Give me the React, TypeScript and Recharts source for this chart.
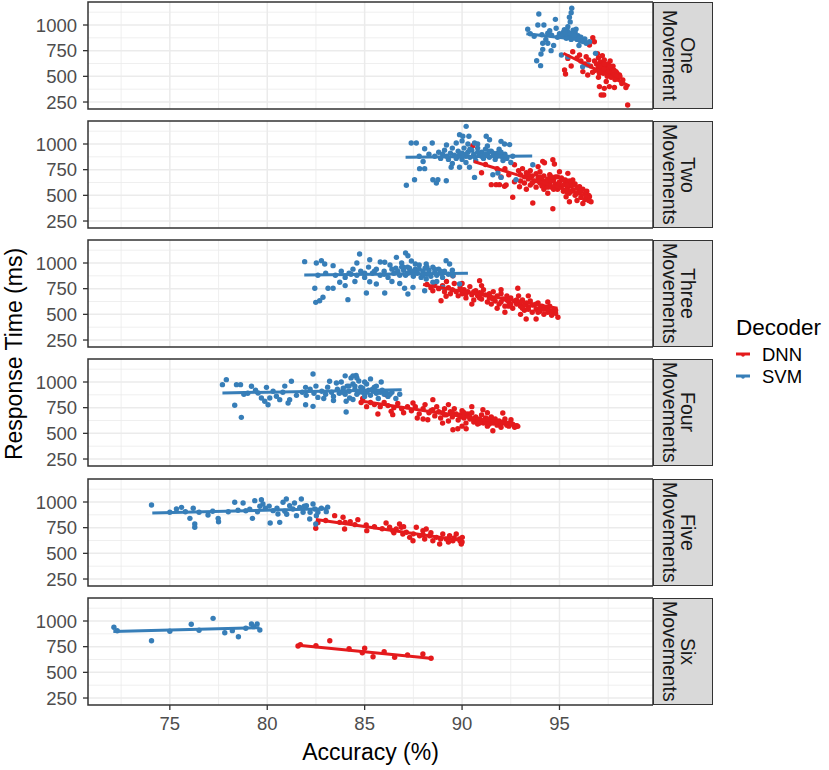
import React from "react";
import { ScatterChart, Scatter, XAxis, YAxis, CartesianGrid, ReferenceArea } from "recharts";

// colours used by ggplot's Set1 palette
const DNN_COLOR = "#E41A1C";
const SVM_COLOR = "#377EB8";

const xTicks = [75, 80, 85, 90, 95];
const xMinor = [72.5, 77.5, 82.5, 87.5, 92.5, 97.5];
const yTicks = [250, 500, 750, 1000];
const yMinor = [375, 625, 875, 1125];
const X_DOMAIN: [number, number] = [70.8, 99.8];
const Y_DOMAIN: [number, number] = [182, 1224];

const facetLabels = [
    ["One", "Movement"],
    ["Two", "Movements"],
    ["Three", "Movements"],
    ["Four", "Movements"],
    ["Five", "Movements"],
    ["Six", "Movements"],
];

// ---- One movement
const svmOne = [
    [95.63, 1163], [95.6, 1120], [95.51, 1075], [93.94, 1107], [94.79, 1055], [93.89, 1000], [94.2, 1000],
    [93.37, 958], [94.83, 968], [95.43, 984], [95.7, 950], [95.55, 1030], [95.0, 915], [95.1, 890],
    [95.2, 930], [95.3, 900], [95.35, 870], [95.45, 910], [95.5, 885], [95.6, 860], [95.65, 905],
    [95.75, 880], [95.8, 930], [95.9, 860], [95.95, 895], [96.05, 850], [96.1, 880], [96.2, 840],
    [96.3, 865], [95.25, 955], [95.4, 945], [95.85, 960], [94.9, 880], [94.6, 900], [94.4, 920],
    [94.1, 905], [93.7, 890], [93.5, 915], [94.3, 860], [94.5, 945], [94.14, 822], [94.4, 822],
    [94.14, 763], [94.57, 750], [94.05, 717], [93.83, 652], [94.03, 604], [95.1, 708], [95.43, 691],
    [96.85, 724], [96.45, 610], [96.19, 594], [96.37, 822], [96.54, 837], [94.7, 800], [96.0, 800],
    [95.2, 900], [95.4, 880], [95.6, 910], [95.8, 890], [95.5, 920], [96.0, 870], [95.3, 930],
];
const dnnOne = [
    [96.71, 877], [96.79, 837], [96.54, 805], [95.68, 740], [96.03, 708], [96.37, 691], [95.43, 675],
    [95.26, 562], [95.31, 523], [95.6, 601], [96.2, 546], [96.45, 513], [97.39, 610], [97.05, 400],
    [97.3, 383], [97.14, 318], [97.27, 318], [97.82, 392], [97.56, 400], [98.41, 392], [98.5, 221],
    [98.25, 464], [98.08, 513], [97.9, 546], [96.8, 650], [96.9, 620], [97.0, 680], [97.0, 590],
    [97.1, 640], [97.15, 560], [97.2, 610], [97.25, 530], [97.3, 660], [97.35, 580], [97.4, 550],
    [97.45, 500], [97.5, 620], [97.55, 570], [97.6, 520], [97.65, 490], [97.7, 550], [97.75, 600],
    [97.8, 510], [97.85, 470], [97.95, 530], [98.0, 480], [98.1, 500], [96.6, 600], [96.85, 560],
    [97.05, 530], [96.5, 660], [96.3, 620], [96.1, 650], [95.9, 680], [97.2, 700], [96.95, 720],
    [97.6, 650], [96.7, 540], [97.4, 450], [98.2, 430], [97.0, 490], [97.1, 600], [97.3, 570],
    [97.5, 540], [97.7, 580], [97.9, 500], [97.3, 620], [97.6, 600], [97.8, 560],
];
const svmOneFit = [[93.3, 915], [96.4, 850]];
const dnnOneFit = [[95.2, 725], [98.6, 405]];

// ---- Two movements
const svmTwo = [
    [90.21, 1172], [89.87, 1091], [90.04, 1075], [90.35, 1075], [87.39, 1010], [87.65, 1010], [88.47, 1010],
    [88.08, 954], [91.24, 1075], [91.41, 1042], [92.0, 1026], [92.18, 1000], [92.44, 994], [90.64, 1010],
    [87.14, 598], [87.56, 652], [87.82, 760], [88.08, 760], [88.5, 652], [88.68, 620], [88.76, 652],
    [89.19, 642], [89.44, 773], [89.87, 773], [90.64, 675], [90.38, 773], [91.58, 701], [91.84, 717],
    [92.77, 652], [93.63, 798], [92.0, 675], [88.6, 880], [88.8, 920], [88.9, 860], [89.0, 900],
    [89.1, 940], [89.2, 880], [89.3, 850], [89.4, 910], [89.5, 960], [89.6, 890], [89.7, 860],
    [89.8, 930], [89.9, 900], [90.0, 850], [90.1, 960], [90.2, 880], [90.3, 920], [90.4, 870],
    [90.5, 940], [90.6, 900], [90.7, 840], [90.8, 960], [90.9, 890], [91.0, 920], [91.1, 860],
    [91.2, 950], [91.3, 900], [91.4, 870], [91.5, 930], [91.6, 890], [91.7, 850], [91.8, 910],
    [91.9, 950], [92.0, 880], [92.1, 840], [92.2, 900], [92.3, 860], [92.5, 820], [92.6, 880],
    [89.2, 990], [88.3, 900], [87.8, 880], [88.0, 830], [90.2, 820], [89.5, 810], [91.3, 980], [90.8, 1000],
    [89.8, 880], [90.0, 910], [90.2, 900], [90.4, 950], [90.6, 880], [90.8, 920], [91.0, 880],
    [91.2, 900], [91.4, 930], [91.6, 910], [91.8, 880], [92.0, 920], [92.2, 880], [90.3, 1000],
    [90.0, 1030], [89.7, 1010],
];
const dnnTwo = [
    [91.5, 604], [91.75, 604], [91.92, 604], [92.18, 588], [92.6, 481], [93.63, 425], [94.66, 370],
    [94.14, 831], [94.66, 847], [92.69, 798], [90.55, 983], [94.23, 818], [94.74, 805], [92.26, 601],
    [92.69, 633], [92.95, 584], [96.37, 520], [96.54, 487], [96.62, 438], [95.43, 714], [95.68, 649],
    [96.03, 584], [95.34, 487], [95.51, 438], [92.9, 740], [93.0, 700], [93.1, 760], [93.2, 680],
    [93.3, 720], [93.4, 660], [93.5, 740], [93.6, 690], [93.7, 640], [93.8, 710], [93.9, 670],
    [94.0, 620], [94.0, 730], [94.1, 650], [94.2, 690], [94.3, 600], [94.4, 660], [94.5, 700],
    [94.5, 620], [94.6, 580], [94.7, 650], [94.8, 610], [94.9, 680], [94.9, 560], [95.0, 630],
    [95.1, 590], [95.1, 670], [95.2, 540], [95.3, 610], [95.4, 570], [95.5, 640], [95.5, 520],
    [95.6, 590], [95.7, 550], [95.8, 610], [95.8, 500], [95.9, 570], [96.0, 530], [96.1, 480],
    [96.2, 560], [96.3, 460], [96.4, 540], [96.5, 500], [93.5, 600], [94.2, 560], [93.0, 640],
    [92.4, 700], [91.8, 760], [91.2, 800], [91.0, 720], [92.2, 760], [93.9, 780], [95.0, 730],
    [94.4, 520], [95.9, 450], [96.2, 420], [93.3, 560], [92.0, 680], [93.2, 620], [93.4, 700],
    [93.6, 620], [93.8, 580], [94.0, 680], [94.1, 590], [94.3, 640], [94.4, 580], [94.6, 640],
    [94.7, 560], [94.8, 680], [95.0, 580], [95.2, 600], [95.3, 650], [95.4, 530], [95.6, 540],
    [95.6, 620], [95.7, 600], [95.9, 520], [96.0, 580], [96.1, 540], [96.3, 510], [96.4, 480],
    [96.5, 450], [94.2, 620], [94.9, 600], [95.2, 650], [93.9, 640], [94.6, 680], [95.4, 600],
];
const svmTwoFit = [[87.1, 872], [93.6, 882]];
const dnnTwoFit = [[90.6, 830], [96.6, 480]];

// ---- Three movements
const svmThree = [
    [81.92, 1013], [82.49, 617], [82.69, 633], [82.86, 666], [82.44, 754], [83.12, 754], [83.38, 754],
    [84.14, 643], [84.74, 1088], [82.52, 1000], [82.78, 1023], [82.95, 990], [83.38, 974], [87.1, 1097],
    [87.22, 1071], [86.63, 1055], [85.26, 1032], [86.03, 1007], [89.18, 1023], [89.36, 990], [88.16, 990],
    [85.09, 708], [86.03, 708], [87.22, 698], [87.05, 754], [87.48, 763], [88.08, 730], [89.01, 763],
    [89.53, 876], [89.87, 795], [88.16, 844], [88.5, 812], [83.72, 812], [85.26, 818], [85.6, 795],
    [83.5, 880], [83.8, 920], [84.0, 860], [84.2, 900], [84.4, 940], [84.6, 880], [84.8, 920],
    [85.0, 860], [85.2, 960], [85.4, 900], [85.6, 940], [85.8, 880], [86.0, 920], [86.2, 860],
    [86.3, 980], [86.5, 900], [86.6, 950], [86.8, 880], [86.9, 1000], [87.0, 930], [87.1, 880],
    [87.2, 960], [87.3, 910], [87.4, 1020], [87.5, 870], [87.6, 940], [87.7, 900], [87.8, 980],
    [87.9, 860], [88.0, 920], [88.1, 950], [88.2, 890], [88.3, 930], [88.4, 870], [88.5, 960],
    [88.6, 910], [88.7, 880], [88.8, 940], [88.9, 900], [89.0, 860], [89.1, 920], [89.3, 890],
    [89.5, 930], [84.0, 780], [84.5, 820], [86.4, 820], [86.8, 800], [88.7, 820], [83.0, 900],
    [82.6, 880], [84.6, 1000], [85.8, 1010], [86.0, 890], [86.4, 940], [86.7, 920], [87.0, 960],
    [87.3, 950], [87.5, 920], [87.8, 940], [88.0, 880], [88.3, 900], [88.6, 940], [88.9, 920],
    [87.2, 900], [86.9, 960], [85.5, 920], [85.0, 900], [84.3, 890], [87.6, 990], [88.2, 960],
];
const dnnThree = [
    [88.92, 633], [89.18, 676], [89.53, 876], [90.9, 828], [92.86, 754], [93.29, 455], [93.8, 455],
    [94.92, 471], [88.2, 790], [88.4, 760], [88.5, 730], [88.6, 800], [88.8, 750], [89.0, 780],
    [89.1, 720], [89.3, 760], [89.4, 700], [89.5, 740], [89.6, 800], [89.7, 720], [89.8, 680],
    [89.9, 760], [90.0, 700], [90.1, 740], [90.2, 660], [90.3, 720], [90.4, 770], [90.5, 690],
    [90.6, 640], [90.7, 730], [90.8, 680], [90.9, 710], [91.0, 650], [91.1, 740], [91.2, 690],
    [91.3, 620], [91.4, 700], [91.5, 660], [91.6, 720], [91.7, 630], [91.8, 680], [91.9, 600],
    [92.0, 700], [92.1, 650], [92.2, 580], [92.3, 680], [92.4, 620], [92.5, 660], [92.6, 560],
    [92.7, 630], [92.8, 600], [92.9, 680], [93.0, 580], [93.1, 640], [93.2, 540], [93.3, 610],
    [93.4, 570], [93.5, 630], [93.6, 520], [93.7, 590], [93.8, 550], [93.9, 610], [94.0, 530],
    [94.1, 580], [94.2, 500], [94.3, 560], [94.4, 520], [94.5, 580], [94.6, 490], [94.7, 540],
    [94.8, 510], [90.5, 600], [91.8, 560], [93.0, 500], [92.2, 520], [89.2, 820], [90.0, 800],
    [91.0, 780], [92.0, 740], [93.4, 680], [94.4, 620], [90.2, 700], [90.6, 720], [91.0, 700],
    [91.4, 660], [91.6, 650], [92.0, 620], [92.3, 640], [92.5, 600], [92.8, 640], [93.0, 620],
    [93.2, 590], [93.4, 550], [93.6, 590], [93.8, 600], [94.0, 560], [94.2, 550], [94.4, 560],
    [94.6, 530], [94.8, 540], [93.9, 520], [93.1, 560], [92.4, 580], [91.5, 600], [90.9, 660],
];
const svmThreeFit = [[81.9, 883], [90.3, 900]];
const dnnThreeFit = [[88.0, 790], [94.9, 560]];

// ---- Four movements
const svmFour = [
    [77.7, 974], [77.9, 1023], [78.42, 974], [78.63, 974], [78.33, 773], [78.67, 656], [79.19, 958],
    [79.53, 893], [79.7, 844], [79.87, 812], [80.04, 779], [80.13, 844], [80.47, 861], [80.64, 828],
    [81.15, 828], [81.07, 795], [79.96, 948], [81.24, 1007], [81.97, 948], [82.35, 1078], [83.2, 1007],
    [83.55, 990], [81.97, 779], [82.35, 763], [84.05, 708], [84.56, 1065], [85.85, 1000], [85.43, 909],
    [84.05, 812], [84.23, 844], [81.8, 900], [82.0, 870], [82.2, 930], [82.4, 890], [82.5, 960],
    [82.6, 850], [82.8, 910], [83.0, 880], [83.1, 950], [83.3, 900], [83.4, 860], [83.6, 930],
    [83.7, 890], [83.8, 1000], [83.9, 940], [84.0, 880], [84.1, 960], [84.2, 910], [84.3, 1040],
    [84.4, 980], [84.5, 930], [84.6, 880], [84.7, 1010], [84.8, 950], [84.9, 900], [85.0, 860],
    [85.1, 980], [85.2, 920], [85.3, 870], [85.5, 950], [85.6, 890], [85.7, 840], [85.9, 920],
    [86.0, 880], [86.2, 860], [86.4, 900], [86.6, 840], [86.8, 880], [84.4, 830], [83.4, 820],
    [82.9, 840], [80.8, 900], [81.5, 870], [80.3, 910], [79.0, 890], [78.8, 880], [79.4, 920],
    [80.9, 960], [85.3, 1030], [84.0, 1060], [84.5, 960], [84.7, 900], [84.9, 940], [85.1, 900],
    [85.4, 930], [85.6, 960], [85.8, 900], [86.1, 900], [86.3, 880], [84.2, 960], [83.9, 900],
    [84.6, 1040], [85.0, 1000], [84.4, 1060],
];
const dnnFour = [
    [85.68, 688], [86.36, 714], [86.44, 682], [86.1, 876], [87.48, 795], [88.5, 828], [89.53, 535],
    [89.78, 545], [90.21, 545], [91.58, 526], [91.07, 730], [92.09, 698], [92.51, 633], [92.86, 568],
    [88.24, 633], [84.82, 800], [84.9, 840], [85.1, 760], [85.3, 800], [85.5, 780], [85.8, 760],
    [86.0, 800], [86.2, 770], [86.5, 750], [86.7, 790], [86.9, 740], [87.0, 700], [87.2, 760],
    [87.4, 720], [87.6, 760], [87.8, 690], [88.0, 740], [88.1, 780], [88.3, 700], [88.5, 730],
    [88.6, 670], [88.7, 760], [88.8, 710], [88.9, 650], [89.0, 700], [89.1, 740], [89.2, 680],
    [89.3, 620], [89.4, 710], [89.5, 660], [89.6, 740], [89.7, 690], [89.8, 630], [89.9, 680],
    [90.0, 720], [90.1, 650], [90.2, 600], [90.3, 690], [90.4, 640], [90.5, 700], [90.6, 610],
    [90.7, 660], [90.8, 590], [90.9, 640], [91.0, 680], [91.1, 600], [91.2, 650], [91.3, 570],
    [91.4, 630], [91.5, 660], [91.6, 600], [91.7, 640], [91.8, 580], [91.9, 620], [92.0, 560],
    [92.1, 610], [92.2, 640], [92.3, 580], [92.4, 600], [92.6, 590], [92.7, 560], [92.8, 575],
    [89.0, 600], [90.0, 570], [88.0, 640], [87.7, 650], [91.3, 700], [90.5, 760], [89.3, 780],
    [89.5, 700], [89.9, 660], [90.2, 680], [90.4, 660], [90.6, 640], [90.8, 620], [91.0, 620],
    [91.2, 610], [91.4, 590], [91.6, 630], [91.8, 610], [92.0, 590], [92.2, 600], [92.4, 570],
    [92.5, 590], [89.1, 680], [88.4, 720], [90.9, 600], [91.3, 640], [90.1, 700],
];
const svmFourFit = [[77.7, 893], [86.9, 925]];
const dnnFourFit = [[84.8, 815], [92.9, 580]];

// ---- Five movements
const svmFive = [
    [74.06, 971], [75.34, 932], [75.6, 948], [76.03, 841], [76.2, 939], [76.28, 786], [76.28, 754],
    [76.96, 873], [77.48, 841], [77.5, 808], [78.33, 997], [78.76, 990], [79.24, 841], [79.36, 1013],
    [79.7, 1022], [79.78, 981], [79.62, 958], [80.15, 795], [80.3, 916], [80.55, 883], [80.64, 802],
    [80.81, 997], [80.98, 1029], [81.15, 964], [81.32, 932], [81.5, 867], [81.67, 948], [81.75, 1029],
    [81.84, 900], [82.01, 964], [82.18, 834], [82.35, 981], [82.44, 932], [82.52, 867], [82.78, 939],
    [83.03, 906], [82.49, 786], [75.0, 900], [75.8, 905], [76.5, 900], [77.2, 910], [78.0, 905],
    [78.9, 915], [79.5, 905], [79.9, 940], [80.1, 960], [80.5, 940], [80.9, 910], [81.0, 880],
    [81.4, 990], [81.9, 960], [82.2, 900], [82.6, 900], [83.1, 950], [79.1, 930], [78.5, 920],
];
const dnnFive = [
    [82.49, 744], [83.46, 867], [83.89, 851], [83.72, 802], [83.97, 737], [84.26, 808], [84.65, 828],
    [85.08, 776], [85.11, 721], [86.1, 795], [86.28, 754], [86.45, 721], [86.62, 737], [86.79, 786],
    [86.88, 754], [86.96, 688], [87.14, 705], [87.31, 656], [87.48, 623], [87.65, 754], [87.82, 672],
    [87.99, 721], [88.08, 640], [88.16, 737], [88.33, 672], [88.5, 623], [88.68, 656], [88.85, 591],
    [89.01, 688], [89.19, 640], [89.36, 672], [89.53, 623], [89.7, 688], [89.87, 640], [89.96, 591],
    [90.01, 656], [82.6, 800], [83.0, 820], [84.0, 800], [84.5, 780], [85.5, 760], [85.9, 740],
    [86.5, 700], [87.0, 760], [87.5, 690], [88.0, 680], [88.4, 700], [88.9, 640], [89.3, 610],
    [89.6, 650], [89.9, 620], [90.0, 610],
];
const svmFiveFit = [[74.1, 893], [83.1, 935]];
const dnnFiveFit = [[82.5, 830], [90.0, 625]];

// ---- Six movements
const svmSix = [
    [72.13, 939], [74.06, 808], [76.1, 968], [77.22, 1026], [77.82, 886], [78.21, 906], [78.52, 847],
    [79.19, 971], [79.48, 971], [79.62, 912], [72.3, 905], [75.0, 900], [76.5, 910], [78.9, 930], [79.3, 945],
];
const dnnSix = [
    [81.58, 756], [81.7, 770], [83.21, 808], [85.0, 734], [84.88, 691], [85.43, 652], [86.54, 646],
    [87.99, 679], [88.41, 637], [84.2, 730], [86.0, 700], [87.2, 670], [82.5, 760],
];
const svmSixFit = [[72.1, 898], [79.6, 935]];
const dnnSixFit = [[81.6, 765], [88.5, 635]];

const toPts = (arr: number[][]) => arr.map(([x, y]) => ({ x, y }));

const panels = [
    { svm: svmOne, dnn: dnnOne, svmFit: svmOneFit, dnnFit: dnnOneFit },
    { svm: svmTwo, dnn: dnnTwo, svmFit: svmTwoFit, dnnFit: dnnTwoFit },
    { svm: svmThree, dnn: dnnThree, svmFit: svmThreeFit, dnnFit: dnnThreeFit },
    { svm: svmFour, dnn: dnnFour, svmFit: svmFourFit, dnnFit: dnnFourFit },
    { svm: svmFive, dnn: dnnFive, svmFit: svmFiveFit, dnnFit: dnnFiveFit },
    { svm: svmSix, dnn: dnnSix, svmFit: svmSixFit, dnnFit: dnnSixFit },
];

const PANEL_TOPS = [2, 121, 240, 359, 479, 598];
const PANEL_H = 107;
const PAD = 10; // extra room above/below so edge tick labels are not clipped
const PLOT_LEFT = 88;
const PLOT_RIGHT = 653;
const STRIP_W = 60;
const FONT = "'Liberation Sans', Arial, Helvetica, sans-serif";

const dot = (color: string) => (props: any) =>
    <circle cx={props.cx} cy={props.cy} r={2.7} fill={color} />;
const noDot = () => <g />;

const tickStyle = { fill: "#4D4D4D", fontSize: 18.5 };

const FacetPanel = ({ index }: { index: number }) => {
    const p = panels[index];
    const showX = index === panels.length - 1;
    return (
        <ScatterChart
            width={PLOT_RIGHT}
            height={PANEL_H + PAD + (showX ? 40 : PAD)}
            margin={{ top: PAD, right: 0, bottom: showX ? 0 : PAD, left: 0 }}
        >
            <XAxis
                type="number"
                dataKey="x"
                domain={X_DOMAIN}
                ticks={xTicks}
                interval={0}
                hide={!showX}
                height={40}
                axisLine={false}
                tickLine={{ stroke: "#333333", strokeWidth: 1.3 }}
                tickSize={5}
                tickMargin={7}
                tick={tickStyle}
                allowDataOverflow
            />
            <YAxis
                type="number"
                dataKey="y"
                domain={Y_DOMAIN}
                ticks={yTicks}
                interval={0}
                width={PLOT_LEFT}
                axisLine={false}
                tickLine={{ stroke: "#333333", strokeWidth: 1.3 }}
                tickSize={5}
                tickMargin={6}
                tick={tickStyle}
                allowDataOverflow
            />
            <CartesianGrid
                stroke="#EBEBEB"
                strokeWidth={0.8}
                horizontalValues={yMinor}
                verticalValues={xMinor}
            />
            <CartesianGrid
                stroke="#EBEBEB"
                strokeWidth={1.5}
                horizontalValues={yTicks}
                verticalValues={xTicks}
            />
            <Scatter data={toPts(p.dnn)} fill={DNN_COLOR} shape={dot(DNN_COLOR)} isAnimationActive={false} />
            <Scatter data={toPts(p.svm)} fill={SVM_COLOR} shape={dot(SVM_COLOR)} isAnimationActive={false} />
            <Scatter
                data={toPts(p.dnnFit)}
                line={{ stroke: DNN_COLOR, strokeWidth: 3 }}
                shape={noDot}
                isAnimationActive={false}
            />
            <Scatter
                data={toPts(p.svmFit)}
                line={{ stroke: SVM_COLOR, strokeWidth: 3 }}
                shape={noDot}
                isAnimationActive={false}
            />
            <ReferenceArea
                x1={X_DOMAIN[0]}
                x2={X_DOMAIN[1]}
                y1={Y_DOMAIN[0]}
                y2={Y_DOMAIN[1]}
                fill="none"
                stroke="#333333"
                strokeWidth={1.5}
                ifOverflow="visible"
            />
        </ScatterChart>
    );
};

const LegendKey = ({ color, label }: { color: string; label: string }) => (
    <div style={{ display: "flex", alignItems: "center", height: 22 }}>
        <svg width={18} height={10} style={{ marginRight: 8 }}>
            <line x1={0} y1={4} x2={14} y2={4} stroke={color} strokeWidth={3} />
            <circle cx={7} cy={5} r={1.8} fill={color} />
        </svg>
        <span style={{ fontSize: 18.5, color: "#000" }}>{label}</span>
    </div>
);

export default function App() {
    return (
        <div
            style={{
                position: "absolute",
                left: 0,
                top: 0,
                width: 829,
                height: 770,
                background: "#fff",
                fontFamily: FONT,
                overflow: "hidden",
            }}
        >
            {panels.map((_, i) => (
                <div key={i} style={{ position: "absolute", left: 0, top: PANEL_TOPS[i] - PAD }}>
                    <FacetPanel index={i} />
                </div>
            ))}
            {facetLabels.map((lines, i) => (
                <div
                    key={"strip" + i}
                    style={{
                        position: "absolute",
                        left: PLOT_RIGHT,
                        top: PANEL_TOPS[i],
                        width: STRIP_W,
                        height: PANEL_H,
                        boxSizing: "border-box",
                        background: "#D9D9D9",
                        border: "1.5px solid #333333",
                        display: "flex",
                        alignItems: "center",
                        justifyContent: "center",
                        paddingRight: 8,
                    }}
                >
                    <div
                        style={{
                            writingMode: "vertical-rl",
                            textAlign: "center",
                            fontSize: 19.5,
                            lineHeight: "18px",
                            color: "#1A1A1A",
                            whiteSpace: "nowrap",
                        }}
                    >
                        {lines[0]}
                        <br />
                        {lines[1]}
                    </div>
                </div>
            ))}
            <div
                style={{
                    position: "absolute",
                    left: 14 - 150,
                    top: 354 - 14,
                    width: 300,
                    height: 28,
                    lineHeight: "28px",
                    textAlign: "center",
                    fontSize: 23,
                    color: "#000",
                    transform: "rotate(-90deg)",
                }}
            >
                Response Time (ms)
            </div>
            <div
                style={{
                    position: "absolute",
                    left: PLOT_LEFT,
                    top: 738,
                    width: PLOT_RIGHT - PLOT_LEFT,
                    height: 28,
                    lineHeight: "28px",
                    textAlign: "center",
                    fontSize: 23,
                    color: "#000",
                }}
            >
                Accuracy (%)
            </div>
            <div style={{ position: "absolute", left: 736, top: 313 }}>
                <div style={{ fontSize: 22.5, color: "#000", lineHeight: "30px", marginBottom: 1 }}>Decoder</div>
                <LegendKey color={DNN_COLOR} label="DNN" />
                <LegendKey color={SVM_COLOR} label="SVM" />
            </div>
        </div>
    );
}
